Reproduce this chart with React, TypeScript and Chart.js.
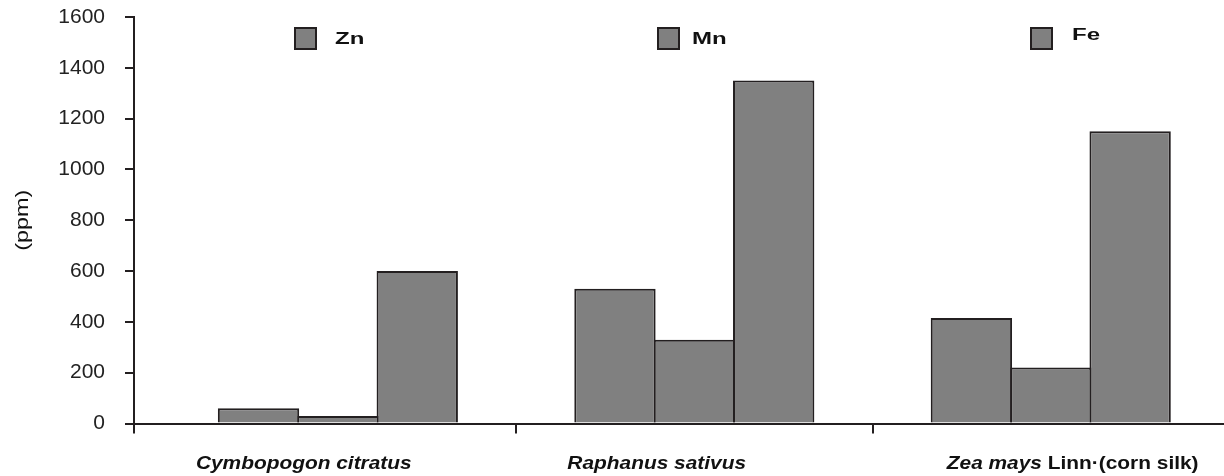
import React, { useEffect, useRef } from "react";
import { Chart, registerables } from "chart.js";

Chart.register(...registerables);

// ---- data ----
const categories = ["Cymbopogon citratus", "Raphanus sativus", "Zea mays Linn·(corn silk)"];
const italicParts = ["Cymbopogon citratus", "Raphanus sativus", "Zea mays "];
const plainParts = ["", "", "Linn·(corn silk)"];
const seriesNames = ["Zn", "Mn", "Fe"];
const znValues = [60, 530, 415];
const mnValues = [30, 330, 220];
const feValues = [600, 1350, 1150];
const yMin = 0;
const yMax = 1600;
const yStep = 200;
const yTitle = "(ppm)";

// ---- style ----
const INK = "#231f20";
const TEXT = "#111111";
const BAR_FILL = "#808080";
const FONT = "'Liberation Sans', Arial, sans-serif";
const W = 1224;
const H = 476;
const LABEL_SHIFT = [-142, -127, -104];
const LEGEND_BOX_X = [295, 658, 1031];
const LEGEND_TEXT_X = [335, 692, 1072];
const LEGEND_BASE = [44, 43.5, 40];

const decorPlugin = {
  id: "decor",
  afterDraw(chart: any) {
    const ctx = chart.ctx as CanvasRenderingContext2D;
    const xs = chart.scales.x;
    const ys = chart.scales.y;

    // y axis title
    ctx.save();
    ctx.fillStyle = TEXT;
    ctx.font = `18px ${FONT}`;
    ctx.translate(23, (ys.top + ys.bottom) / 2);
    ctx.rotate(-Math.PI / 2);
    ctx.scale(1.3, 1);
    ctx.textAlign = "center";
    ctx.textBaseline = "middle";
    ctx.fillText(yTitle, 0, 0);
    ctx.restore();

    // category labels
    categories.forEach((_c, i) => {
      const cx = xs.getPixelForValue(i + 0.5);
      ctx.save();
      ctx.fillStyle = TEXT;
      ctx.translate(cx + LABEL_SHIFT[i], 469);
      ctx.scale(1.16, 1);
      ctx.textAlign = "left";
      ctx.textBaseline = "alphabetic";
      ctx.font = `italic bold 18px ${FONT}`;
      ctx.fillText(italicParts[i], 0, 0);
      const w = ctx.measureText(italicParts[i]).width;
      if (plainParts[i]) {
        ctx.font = `bold 18px ${FONT}`;
        ctx.fillText(plainParts[i], w, 0);
      }
      ctx.restore();
    });

    // legend
    chart.data.datasets.forEach((ds: any, i: number) => {
      ctx.save();
      ctx.fillStyle = ds.backgroundColor;
      ctx.strokeStyle = INK;
      ctx.lineWidth = 2;
      ctx.fillRect(LEGEND_BOX_X[i], 28, 21, 21);
      ctx.strokeRect(LEGEND_BOX_X[i], 28, 21, 21);
      ctx.restore();
      ctx.save();
      ctx.fillStyle = TEXT;
      ctx.translate(LEGEND_TEXT_X[i], LEGEND_BASE[i]);
      ctx.scale(1.5, 1);
      ctx.font = `bold 16px ${FONT}`;
      ctx.textAlign = "left";
      ctx.textBaseline = "alphabetic";
      ctx.fillText(ds.label, 0, 0);
      ctx.restore();
    });
  },
};

export default function App() {
  const ref = useRef<HTMLCanvasElement | null>(null);

  useEffect(() => {
    if (!ref.current) return;
    const seriesValues = [znValues, mnValues, feValues];
    const chart = new Chart(ref.current, {
      type: "bar",
      data: {
        datasets: seriesNames.map((name, k) => ({
          label: name,
          data: seriesValues[k].map((v, i) => ({ x: i + 0.5, y: v })),
          backgroundColor: BAR_FILL,
          borderColor: INK,
          borderWidth: { top: 2, left: 2, right: 2, bottom: 0 },
          categoryPercentage: 0.668,
          barPercentage: 1.025,
        })),
      } as any,
      options: {
        animation: false,
        responsive: false,
        maintainAspectRatio: false,
        devicePixelRatio: 1,
        layout: { padding: { top: 17, left: 0, right: 0, bottom: 0 } },
        plugins: {
          legend: { display: false },
          tooltip: { enabled: false },
        },
        scales: {
          x: {
            type: "linear",
            offset: false,
            min: -0.072,
            max: 2.986,
            afterBuildTicks: (s: any) => {
              s.ticks = [{ value: -0.072 }, { value: 1 }, { value: 2 }];
            },
            ticks: { display: false },
            grid: {
              offset: false,
              drawOnChartArea: false,
              drawTicks: true,
              tickLength: 10,
              color: INK,
              lineWidth: 2,
            },
            border: { display: true, color: INK, width: 2 },
            afterFit: (s: any) => {
              s.height = H - 423.5;
              s.paddingLeft = 0;
              s.paddingRight = 0;
            },
          },
          y: {
            min: yMin,
            max: yMax,
            ticks: {
              stepSize: yStep,
              padding: 20,
              color: "#222222",
              font: { family: FONT, size: 21 },
              callback: (v: any) => String(v),
            },
            grid: {
              drawOnChartArea: false,
              drawTicks: true,
              tickLength: 9,
              color: INK,
              lineWidth: 2,
            },
            border: { display: true, color: INK, width: 2 },
            afterFit: (s: any) => {
              s.width = 134;
              s.paddingTop = 0;
              s.paddingBottom = 0;
            },
          },
        },
      } as any,
      plugins: [decorPlugin],
    });
    return () => chart.destroy();
  }, []);

  return (
    <div style={{ position: "absolute", left: 0, top: 0, width: W, height: H, background: "#fff" }}>
      <canvas ref={ref} width={W} height={H} style={{ display: "block", width: W, height: H }} />
    </div>
  );
}
